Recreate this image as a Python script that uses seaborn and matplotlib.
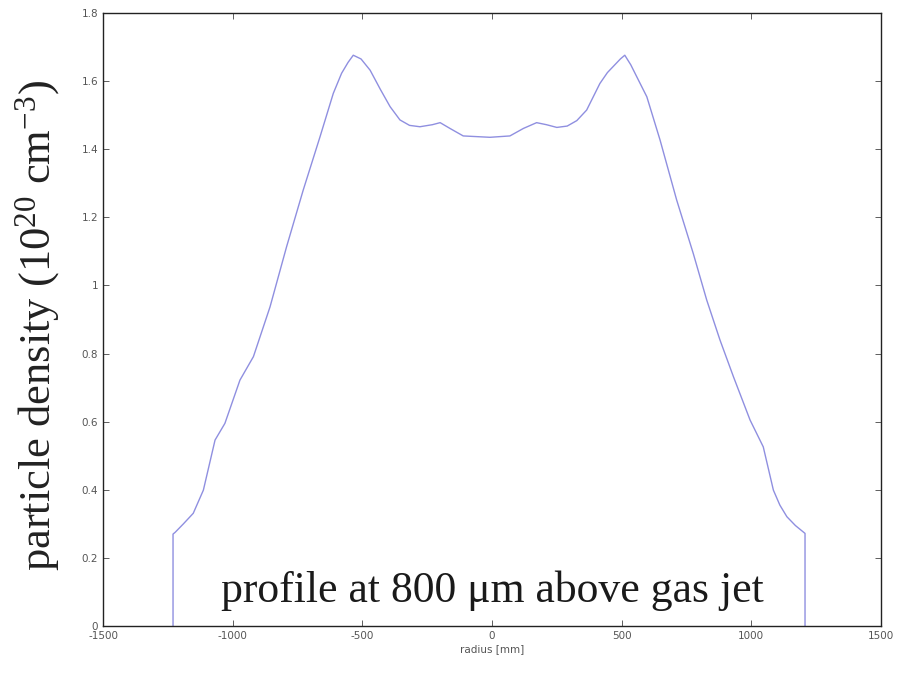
import numpy as np
import pandas as pd
import matplotlib
matplotlib.use("Agg")
import matplotlib.pyplot as plt
import seaborn as sns

# =====================================================
# Data
# =====================================================

radius = [
    -1230, -1230, -1222, -1190, -1152, -1113, -1068, -1030, -972, -920,
    -856, -792, -728, -663, -612, -580, -555, -535, -505, -470,
    -430, -393, -355, -318, -278, -230, -200, -162, -111, -8,
    69, 121, 172, 210, 250, 290, 327, 365, 416, 445,
    470, 495, 512, 535, 560, 597, 648, 712, 776, 828,
    879, 931, 995, 1046, 1085, 1110, 1137, 1170, 1207, 1207
]

density = [
    0.0, 0.27, 0.275, 0.30, 0.331, 0.399, 0.546, 0.595, 0.722, 0.791,
    0.937, 1.114, 1.28, 1.437, 1.564, 1.623, 1.655, 1.676, 1.665, 1.632,
    1.575, 1.525, 1.486, 1.470, 1.466, 1.472, 1.478, 1.461, 1.439, 1.435,
    1.439, 1.461, 1.478, 1.472, 1.464, 1.468, 1.484, 1.515, 1.593, 1.625,
    1.645, 1.665, 1.676, 1.648, 1.61, 1.554, 1.427, 1.251, 1.094, 0.957,
    0.84, 0.732, 0.605, 0.526, 0.399, 0.355, 0.321, 0.295, 0.272, 0.0
]

x_ticks = [-1500, -1000, -500, 0, 500, 1000, 1500]
y_ticks = [0, 0.2, 0.4, 0.6, 0.8, 1, 1.2, 1.4, 1.6, 1.8]
y_tick_labels = ["0", "0.2", "0.4", "0.6", "0.8", "1", "1.2", "1.4", "1.6", "1.8"]

df = pd.DataFrame({"radius": radius, "density": density})

# =====================================================
# Figure
# =====================================================

sns.set_style("ticks")
plt.rcParams["font.family"] = ["DejaVu Sans"]
plt.rcParams["axes.unicode_minus"] = False
plt.rcParams["mathtext.fontset"] = "custom"
plt.rcParams["mathtext.rm"] = "Liberation Serif"
plt.rcParams["mathtext.it"] = "Liberation Serif:italic"
plt.rcParams["mathtext.default"] = "rm"

fig = plt.figure(figsize=(9.14, 6.73), dpi=100)
ax = fig.add_axes([0.1127, 0.0698, 0.8512, 0.9109])

sns.lineplot(
    data=df,
    x="radius",
    y="density",
    sort=False,
    estimator=None,
    color="#8f8fe0",
    linewidth=1.0,
    ax=ax
)

ax.set_xlim(-1500, 1500)
ax.set_ylim(0, 1.8)

ax.set_xticks(x_ticks)
ax.set_yticks(y_ticks)
ax.set_yticklabels(y_tick_labels)

ax.tick_params(
    direction="in",
    top=True,
    right=True,
    length=4,
    width=0.6,
    labelsize=7.5,
    labelcolor="#555555",
    color="#444444"
)

for spine in ax.spines.values():
    spine.set_visible(True)
    spine.set_linewidth(1.0)
    spine.set_color("#222222")

ax.set_xlabel("radius [mm]", fontsize=7.5, color="#555555", labelpad=2)

ax.set_ylabel(
    "particle density (10$^{20}$ cm$^{-3}$)",
    fontsize=32,
    family=["Liberation Serif"],
    color="#222222"
)
ax.yaxis.set_label_coords(-0.053, 0.49)

ax.text(
    0,
    0.07,
    "profile at 800 \u03bcm above gas jet",
    ha="center",
    va="baseline",
    fontsize=31.5,
    family=["Liberation Serif"],
    color="#1a1a1a"
)

fig.savefig("out.png", dpi=100)
